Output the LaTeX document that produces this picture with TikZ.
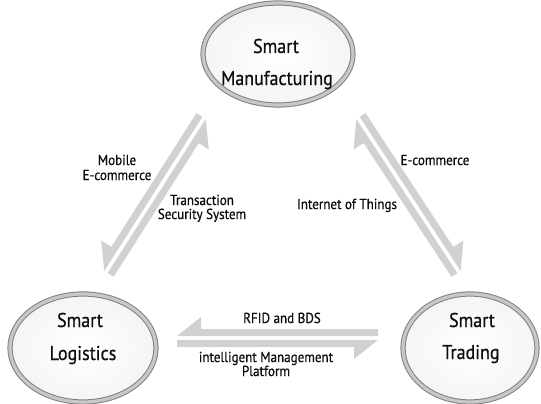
\documentclass[tikz,border=0pt]{standalone}
\usepackage{fontspec}
\setmainfont{PT Sans}[FakeStretch=0.9,FakeBold=0.6]
\usetikzlibrary{calc,shapes.geometric}
\def\hg{2pt}
\def\bw{9pt}
\def\bh{21pt}
\def\bl{24pt}
\newcommand\harp[3]{\fill[harpfill] ($(#2)!\hg!#3:(#1)$) -- ($(#2)!\bl!(#1)!\bh!#3:(#1)$) -- ($(#2)!\bl!(#1)!\bw!#3:(#1)$) -- ($(#1)!\bw!-#3:(#2)$) -- ($(#1)!\hg!-#3:(#2)$) -- cycle;}
\tikzset{
  ell/.style={ellipse, draw=black!50, line width=1pt, double=black!22, double distance=3.2pt,
    inner color=white, outer color=black!4},
  harpfill/.style={fill=black!18},
  big/.style={font=\fontsize{20}{22}\selectfont, anchor=base, inner sep=0pt, text=black!95},
  lbl/.style={font=\fontsize{14.5}{15}\selectfont, anchor=base, inner sep=0pt, text=black!95}
}
\begin{document}
\begin{tikzpicture}[x=1pt,y=-1pt]
\useasboundingbox[fill=white] (0,0) rectangle (541,404);
% ellipses
\node[ell, minimum width=150pt, minimum height=102pt] (man) at (278,54) {};
\node[ell, minimum width=146pt, minimum height=108pt] (log) at (83,348) {};
\node[ell, minimum width=134pt, minimum height=108pt] (tra) at (470,348) {};
% ellipse texts
\node[big] (man1) at (276,53) {Smart};
\node[big] (man2) at (277,85) {Manufacturing};
\node[big] (log1) at (80,327) {Smart};
\node[big] (log2) at (83,360) {Logistics};
\node[big] (tra1) at (472,327) {Smart};
\node[big] (tra2) at (471,359) {Trading};
% arrow end points
\coordinate (l1) at (204,118);
\coordinate (l2) at (106,272);
\coordinate (r1) at (358,118);
\coordinate (r2) at (459,272);
\coordinate (b1) at (177,338);
\coordinate (b2) at (378,338);
\harp{l2}{l1}{90}
\harp{l1}{l2}{90}
\harp{r2}{r1}{270}
\harp{r1}{r2}{270}
\harp{b2}{b1}{90}
\harp{b1}{b2}{90}
% labels
\node[lbl] (mob1) at (117,165) {Mobile};
\node[lbl] (mob2) at (117,180) {E-commerce};
\node[lbl] (tss1) at (202,205) {Transaction};
\node[lbl] (tss2) at (202,219) {Security System};
\node[lbl] (eco) at (435,165) {E-commerce};
\node[lbl] (iot) at (347,209) {Internet of Things};
\node[lbl] (rfid) at (282,323) {RFID and BDS};
\node[lbl] (imp1) at (266,362) {intelligent Management};
\node[lbl] (imp2) at (266,376) {Platform};
\end{tikzpicture}
\end{document}
